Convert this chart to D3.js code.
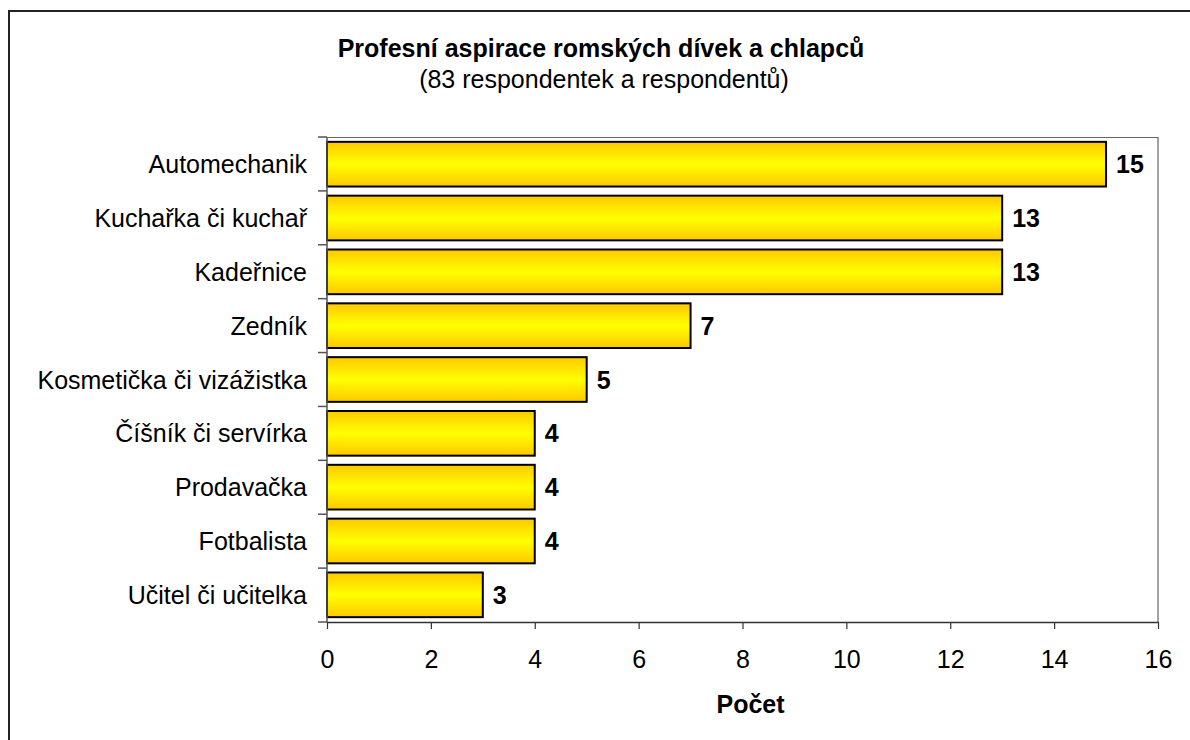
<!DOCTYPE html>
<html>
<head>
<meta charset="utf-8">
<script src="https://cdn.jsdelivr.net/npm/d3@7"></script>
<style>
  body { margin: 0; background: #fff; }
  text { font-family: "Liberation Sans", Arial, sans-serif; }
</style>
</head>
<body>
<script>
var categories = ["Automechanik", "Kuchařka či kuchař", "Kadeřnice", "Zedník",
  "Kosmetička či vizážistka", "Číšník či servírka", "Prodavačka", "Fotbalista", "Učitel či učitelka"];
var values = [15, 13, 13, 7, 5, 4, 4, 4, 3];
var xTicks = [0, 2, 4, 6, 8, 10, 12, 14, 16];

var margin = { top: 137, right: 32, bottom: 118, left: 327 },
  W = 1190, H = 740,
  w = W - margin.left - margin.right,
  h = H - margin.top - margin.bottom;

var fs = "25px";

var svg = d3.select("body").append("svg")
  .attr("width", W)
  .attr("height", H);

// outer frame
svg.append("rect")
  .attr("x", 9).attr("y", 11)
  .attr("width", W + 10).attr("height", H + 10)
  .attr("fill", "none")
  .attr("stroke", "#222")
  .attr("stroke-width", 2);

// gradient for bars
var grad = svg.append("defs").append("linearGradient")
  .attr("id", "gold")
  .attr("x1", 0).attr("y1", 0).attr("x2", 0).attr("y2", 1);
grad.append("stop").attr("offset", "0%").attr("stop-color", "#FFC800");
grad.append("stop").attr("offset", "50%").attr("stop-color", "#FFFF00");
grad.append("stop").attr("offset", "100%").attr("stop-color", "#FFC800");

// titles
svg.append("text")
  .attr("x", 601).attr("y", 57)
  .attr("text-anchor", "middle")
  .attr("font-size", fs)
  .attr("font-weight", "bold")
  .text("Profesní aspirace romských dívek a chlapců");
svg.append("text")
  .attr("x", 604).attr("y", 88)
  .attr("text-anchor", "middle")
  .attr("font-size", fs)
  .text("(83 respondentek a respondentů)");

var g = svg.append("g")
  .attr("transform", "translate(" + margin.left + "," + margin.top + ")");

var x = d3.scaleLinear().domain([0, 16]).range([0, w]);
var y = d3.scaleBand().domain(categories).range([0, h]).paddingInner(0.17).paddingOuter(0.09);

// plot border (top, right)
g.append("path")
  .attr("d", "M0,0.5H" + w + "V" + h)
  .attr("fill", "none")
  .attr("stroke", "#666")
  .attr("stroke-width", 1.2);

// bars
g.selectAll("rect.bar")
  .data(values)
  .enter()
  .append("rect")
  .attr("class", "bar")
  .attr("x", x(0))
  .attr("y", function (d, i) { return y(categories[i]); })
  .attr("width", function (d) { return x(d) - x(0); })
  .attr("height", y.bandwidth())
  .attr("fill", "url(#gold)")
  .attr("stroke", "#000")
  .attr("stroke-width", 2);

// value labels
g.selectAll("text.val")
  .data(values)
  .enter()
  .append("text")
  .attr("class", "val")
  .attr("x", function (d) { return x(d) + 10; })
  .attr("y", function (d, i) { return y(categories[i]) + y.bandwidth() / 2; })
  .attr("dy", "0.36em")
  .attr("font-size", fs)
  .attr("font-weight", "bold")
  .text(function (d) { return d; });

// y axis: line + ticks between categories
var step = h / categories.length;
g.append("line")
  .attr("x1", 0).attr("x2", 0).attr("y1", 0).attr("y2", h)
  .attr("stroke", "#555").attr("stroke-width", 1.5);
g.selectAll("line.ytick")
  .data(d3.range(categories.length + 1))
  .enter()
  .append("line")
  .attr("class", "ytick")
  .attr("x1", -9).attr("x2", 0)
  .attr("y1", function (d) { return d * step; })
  .attr("y2", function (d) { return d * step; })
  .attr("stroke", "#555").attr("stroke-width", 1.5);
g.selectAll("text.cat")
  .data(categories)
  .enter()
  .append("text")
  .attr("class", "cat")
  .attr("x", -20)
  .attr("y", function (d) { return y(d) + y.bandwidth() / 2; })
  .attr("dy", "0.36em")
  .attr("text-anchor", "end")
  .attr("font-size", fs)
  .text(function (d) { return d; });

// x axis
var xAxis = d3.axisBottom(x).tickValues(xTicks).tickSize(7).tickSizeOuter(0).tickPadding(21);
var xg = g.append("g")
  .attr("transform", "translate(0," + h + ")")
  .call(xAxis);
xg.select(".domain").attr("stroke", "#333").attr("stroke-width", 1.5);
xg.selectAll(".tick line").attr("stroke", "#333").attr("stroke-width", 1.2);
xg.selectAll(".tick text")
  .attr("font-size", fs)
  .attr("font-family", "Liberation Sans, Arial, sans-serif")
  .attr("fill", "#000");

g.append("text")
  .attr("x", w / 2 + 8)
  .attr("y", h + 91)
  .attr("text-anchor", "middle")
  .attr("font-size", fs)
  .attr("font-weight", "bold")
  .text("Počet");
</script>
</body>
</html>
